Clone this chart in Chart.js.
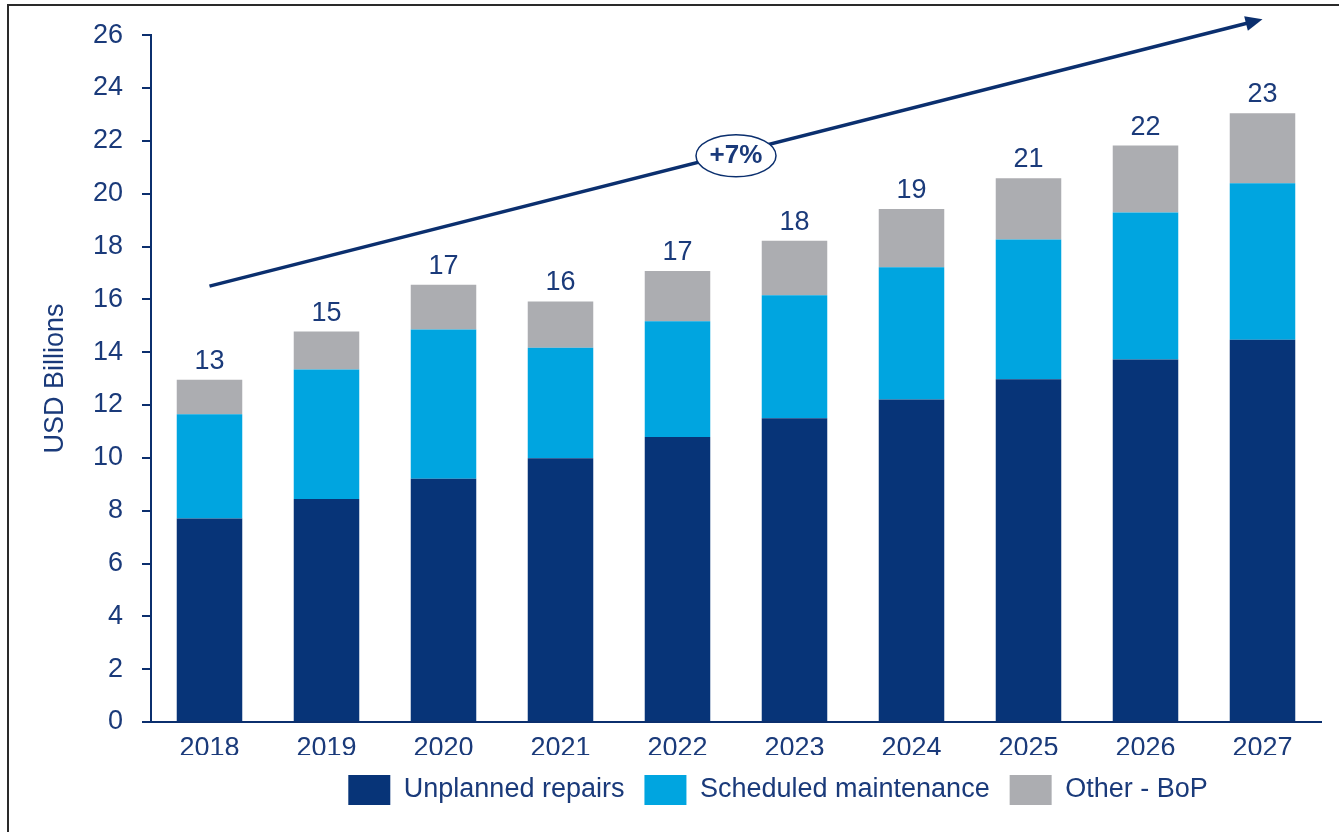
<!DOCTYPE html>
<html>
<head>
<meta charset="utf-8">
<script src="https://cdn.jsdelivr.net/npm/chart.js@4.4.1/dist/chart.umd.min.js"></script>
<style>
  html, body { margin: 0; padding: 0; background: #fff; }
</style>
</head>
<body>
<canvas id="grafico-mercado" width="1339" height="832"></canvas>
<script>
const anos = ['2018', '2019', '2020', '2021', '2022', '2023', '2024', '2025', '2026', '2027'];
const reparos = [7.70, 8.44, 9.21, 9.98, 10.79, 11.50, 12.21, 12.98, 13.72, 14.47];
const manutencao = [3.95, 4.90, 5.65, 4.19, 4.38, 4.66, 5.01, 5.29, 5.57, 5.93];
const outros = [1.31, 1.44, 1.69, 1.75, 1.90, 2.06, 2.20, 2.31, 2.53, 2.65];
const ticksY = [0, 2, 4, 6, 8, 10, 12, 14, 16, 18, 20, 22, 24, 26];

// seta de crescimento: valores no eixo Y na primeira e na ultima coluna
const setaInicio = 16.5;
const setaFim = 26.6;
const taxaCrescimento = '+7%';

const totais = anos.map((_, i) => Math.round(reparos[i] + manutencao[i] + outros[i]));

const corTexto = '#1a3a7a';
const corEixo = '#0b2f6e';
const fonte = '"Liberation Sans", Arial, sans-serif';

Chart.defaults.font.family = fonte;
Chart.defaults.font.size = 27;
Chart.defaults.color = corTexto;

const moldura = {
    id: 'moldura',
    beforeDraw(chart) {
        const ctx = chart.ctx;
        ctx.save();
        ctx.fillStyle = '#fff';
        ctx.fillRect(0, 0, chart.width, chart.height);
        ctx.fillStyle = '#2a2a2a';
        ctx.fillRect(7, 4, chart.width - 7, 2);
        ctx.fillRect(7, 4, 2, chart.height - 4);
        ctx.restore();
    }
};

const rotulosTotais = {
    id: 'rotulosTotais',
    afterDatasetsDraw(chart) {
        const ctx = chart.ctx;
        const topo = chart.getDatasetMeta(chart.data.datasets.length - 1);
        ctx.save();
        ctx.font = '27px ' + fonte;
        ctx.fillStyle = corTexto;
        ctx.textAlign = 'center';
        ctx.textBaseline = 'alphabetic';
        topo.data.forEach(function(barra, i) {
            ctx.fillText(String(totais[i]), barra.x, barra.y - 11);
        });
        ctx.restore();
    }
};

const seta = {
    id: 'seta',
    afterDraw(chart) {
        const ctx = chart.ctx;
        const x = chart.scales.x;
        const y = chart.scales.y;
        const x1 = x.getPixelForValue(0);
        const y1 = y.getPixelForValue(setaInicio);
        const x2 = x.getPixelForValue(anos.length - 1);
        const y2 = y.getPixelForValue(setaFim);
        const ang = Math.atan2(y2 - y1, x2 - x1);

        ctx.save();
        ctx.strokeStyle = corEixo;
        ctx.fillStyle = corEixo;
        ctx.lineWidth = 3.5;
        ctx.beginPath();
        ctx.moveTo(x1, y1);
        ctx.lineTo(x2 - 12 * Math.cos(ang), y2 - 12 * Math.sin(ang));
        ctx.stroke();

        ctx.save();
        ctx.translate(x2, y2);
        ctx.rotate(ang);
        ctx.beginPath();
        ctx.moveTo(0, 0);
        ctx.lineTo(-17, -7.5);
        ctx.lineTo(-17, 7.5);
        ctx.closePath();
        ctx.fill();
        ctx.restore();

        // elipse com a taxa no meio da seta
        const cx = (x1 + x2) / 2;
        const cy = (y1 + y2) / 2 + 3;
        ctx.beginPath();
        ctx.ellipse(cx, cy, 40, 21, 0, 0, Math.PI * 2);
        ctx.fillStyle = '#fff';
        ctx.fill();
        ctx.lineWidth = 1.5;
        ctx.stroke();

        ctx.fillStyle = corTexto;
        ctx.font = 'bold 26px ' + fonte;
        ctx.textAlign = 'center';
        ctx.textBaseline = 'middle';
        ctx.fillText(taxaCrescimento, cx, cy);
        ctx.restore();
    }
};

const deslocaLegenda = {
    id: 'deslocaLegenda',
    afterLayout(chart) {
        chart.legend.left += 98;
        chart.legend.right += 98;
    }
};

const ctx = document.getElementById('grafico-mercado').getContext('2d');
const grafico = new Chart(ctx, {
    type: 'bar',
    data: {
        labels: anos,
        datasets: [{
            label: 'Unplanned repairs',
            data: reparos,
            backgroundColor: '#073478'
        }, {
            label: 'Scheduled maintenance',
            data: manutencao,
            backgroundColor: '#00a5e0'
        }, {
            label: 'Other - BoP',
            data: outros,
            backgroundColor: '#acadb1'
        }]
    },
    options: {
        responsive: false,
        animation: false,
        devicePixelRatio: 1,
        datasets: {
            bar: {
                categoryPercentage: 1,
                barPercentage: 0.56,
                borderWidth: 0
            }
        },
        layout: {
            padding: { left: 39, top: 35, right: 18, bottom: 17 }
        },
        plugins: {
            legend: {
                position: 'bottom',
                labels: {
                    boxWidth: 42,
                    boxHeight: 30,
                    padding: 20,
                    color: corTexto,
                    font: { size: 27 }
                }
            },
            tooltip: { enabled: false }
        },
        scales: {
            x: {
                stacked: true,
                grid: { display: false, drawTicks: false, tickLength: 0 },
                border: { display: true, color: corEixo, width: 2 },
                ticks: { color: corTexto, padding: 10, font: { size: 27 } },
                afterFit(escala) { escala.height = 33; }
            },
            y: {
                stacked: true,
                min: 0,
                max: 26,
                afterBuildTicks(escala) {
                    escala.ticks = ticksY.map(v => ({ value: v }));
                },
                grid: {
                    drawOnChartArea: false,
                    drawTicks: true,
                    tickLength: 9,
                    color: corEixo,
                    lineWidth: 2
                },
                border: { display: true, color: corEixo, width: 2 },
                ticks: { color: corTexto, padding: 19, font: { size: 27 } },
                title: {
                    display: true,
                    text: 'USD Billions',
                    color: corTexto,
                    padding: 0,
                    font: { size: 27 }
                },
                afterFit(escala) { escala.width = 112; }
            }
        }
    },
    plugins: [moldura, rotulosTotais, seta, deslocaLegenda]
});
</script>
</body>
</html>
